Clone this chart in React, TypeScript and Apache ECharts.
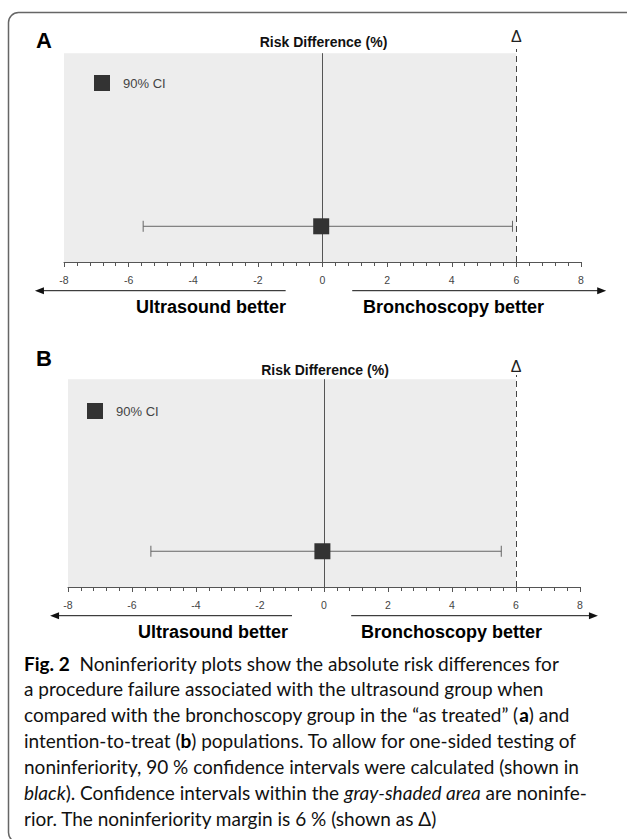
import React, { useEffect, useRef } from "react";
import * as echarts from "echarts";

// ---- data ----
const panelLabels = ["A", "B"];
const estimates = [-0.04, -0.05];
const lowerCI = [-5.55, -5.41];
const upperCI = [5.88, 5.54];
const pointLevel = [0.171, 0.172];
const nonInferiorityMargin = 6;
const xMin = -8;
const xMax = 8;
const xStep = 2;
const legendLabel = "90% CI";
const axisTitle = "Risk Difference (%)";
const leftLabel = "Ultrasound better";
const rightLabel = "Bronchoscopy better";
const leftArrowSpan = [[-8.9, -1.14], [-8.56, -1.0]];
const rightArrowSpan = [[0.92, 8.78], [0.85, 8.56]];
const captionLines = [
  "{b|Fig. 2}  Noninferiority plots show the absolute risk differences for",
  "a procedure failure associated with the ultrasound group when",
  "compared with the bronchoscopy group in the \u201cas treated\u201d ({b|a}) and",
  "intention-to-treat ({b|b}) populations. To allow for one-sided testing of",
  "noninferiority, 90 % confidence intervals were calculated (shown in",
  "{i|black}). Confidence intervals within the {i|gray-shaded area} are noninfe-",
  "rior. The noninferiority margin is 6 % (shown as \u0394)",
];

// ---- layout ----
const FONT = "'Liberation Sans', Arial, sans-serif";
const CAP_FONT = "Lato, 'Open Sans', sans-serif";
const grids = [
  { left: 64, right: 46, top: 49, height: 213 },
  { left: 68, right: 47, top: 375, height: 212 },
];
const legendPos = [
  { left: 94, top: 75 },
  { left: 87, top: 403 },
];
const panelLetterY = [40, 358];
const titleY = [42, 370];
const deltaY = [36, 366];
const arrowY = [290.7, 615.7];
const sideTextY = [306.7, 632];
const sideTextX = [
  [286, 363],
  [288, 361],
];
const YMAX = 1.02;

export default function App() {
  const ref = useRef<HTMLDivElement>(null);
  useEffect(() => {
    if (!ref.current) return;
    const chart = echarts.init(ref.current, undefined, { renderer: "svg" });
    const series: any[] = [];
    panelLabels.forEach((_, i) => {
      series.push({
        type: "line",
        xAxisIndex: i,
        yAxisIndex: i,
        data: [],
        z: 1,
        silent: true,
        markArea: {
          silent: true,
          itemStyle: { color: "#ededed" },
          data: [[{ coord: [xMin, 0] }, { coord: [nonInferiorityMargin, 1] }]],
        },
        markLine: {
          silent: true,
          symbol: "none",
          label: { show: false },
          data: [
            [
              { coord: [0, 0], lineStyle: { color: "#555", width: 1, type: "solid" } },
              { coord: [0, 1] },
            ],
            [
              {
                coord: [nonInferiorityMargin, 0],
                lineStyle: { color: "#444", width: 1, type: [6, 4] },
              },
              { coord: [nonInferiorityMargin, YMAX] },
            ],
          ],
        },
      });
      series.push({
        type: "custom",
        xAxisIndex: i,
        yAxisIndex: i,
        z: 3,
        silent: true,
        data: [[lowerCI[i], upperCI[i], pointLevel[i]]],
        encode: { x: [0, 1], y: 2 },
        renderItem: (params: any, api: any) => {
          const lo = api.coord([api.value(0), api.value(2)]);
          const hi = api.coord([api.value(1), api.value(2)]);
          const cap = 5.5;
          const style = { stroke: "#666", lineWidth: 1 };
          return {
            type: "group",
            children: [
              { type: "line", shape: { x1: lo[0], y1: lo[1], x2: hi[0], y2: hi[1] }, style },
              { type: "line", shape: { x1: lo[0], y1: lo[1] - cap, x2: lo[0], y2: lo[1] + cap }, style },
              { type: "line", shape: { x1: hi[0], y1: hi[1] - cap, x2: hi[0], y2: hi[1] + cap }, style },
            ],
          };
        },
      });
      series.push({
        type: "scatter",
        name: legendLabel,
        xAxisIndex: i,
        yAxisIndex: i,
        z: 5,
        symbol: "rect",
        symbolSize: 16,
        itemStyle: { color: "#333", opacity: 1 },
        data: [[estimates[i], pointLevel[i]]],
      });
    });

    const option: any = {
      animation: false,
      grid: grids,
      legend: legendPos.map((p) => ({
        ...p,
        padding: 0,
        itemWidth: 16,
        itemHeight: 16,
        icon: "rect",
        selectedMode: false,
        data: [legendLabel],
        itemStyle: { opacity: 1 },
        textStyle: { fontSize: 13, color: "#444", fontFamily: FONT, padding: [0, 0, 0, 8] },
      })),
      xAxis: grids.map((_, i) => ({
        type: "value",
        gridIndex: i,
        min: xMin,
        max: xMax,
        interval: xStep,
        axisLine: { show: true, onZero: false, lineStyle: { color: "#555", width: 1 } },
        axisTick: { show: true, length: 5, lineStyle: { color: "#555" } },
        minorTick: { show: true, splitNumber: 5, length: 4, lineStyle: { color: "#555" } },
        splitLine: { show: false },
        minorSplitLine: { show: false },
        axisLabel: { fontSize: 10.5, color: "#444", margin: 12, fontFamily: FONT },
      })),
      yAxis: grids.map((_, i) => ({
        type: "value",
        gridIndex: i,
        min: 0,
        max: YMAX,
        show: false,
        splitLine: { show: false },
      })),
      series,
    };
    chart.setOption(option);

    const graphics: any[] = [
      {
        type: "rect",
        silent: true,
        shape: { x: 8.5, y: 12.5, width: 640, height: 830, r: 10 },
        style: { fill: "none", stroke: "#666", lineWidth: 1.5 },
      },
    ];
    panelLabels.forEach((lab, i) => {
      const px = (v: number) => chart.convertToPixel({ xAxisIndex: i }, v) as number;
      graphics.push({
        type: "text",
        x: 44,
        y: panelLetterY[i],
        style: { text: lab, fontSize: 22, fontWeight: "bold", fontFamily: FONT, fill: "#000", align: "center", verticalAlign: "middle" },
      });
      graphics.push({
        type: "text",
        x: px(0) + 1,
        y: titleY[i],
        style: { text: axisTitle, fontSize: 14, fontWeight: "bold", fontFamily: FONT, fill: "#111", align: "center", verticalAlign: "middle" },
      });
      graphics.push({
        type: "text",
        x: px(nonInferiorityMargin),
        y: deltaY[i],
        style: { text: "\u0394", fontSize: 16, fontFamily: FONT, fill: "#222", align: "center", verticalAlign: "middle" },
      });
      const ay = arrowY[i];
      const [l0, l1] = leftArrowSpan[i].map(px);
      const [r0, r1] = rightArrowSpan[i].map(px);
      const lineStyle = { stroke: "#111", lineWidth: 1 };
      graphics.push({ type: "line", shape: { x1: l0 + 6, y1: ay, x2: l1, y2: ay }, style: lineStyle });
      graphics.push({ type: "polygon", shape: { points: [[l0, ay], [l0 + 9, ay - 3.5], [l0 + 9, ay + 3.5]] }, style: { fill: "#111" } });
      graphics.push({ type: "line", shape: { x1: r0, y1: ay, x2: r1 - 6, y2: ay }, style: lineStyle });
      graphics.push({ type: "polygon", shape: { points: [[r1, ay], [r1 - 9, ay - 3.5], [r1 - 9, ay + 3.5]] }, style: { fill: "#111" } });
      graphics.push({
        type: "text",
        x: sideTextX[i][0],
        y: sideTextY[i],
        style: { text: leftLabel, fontSize: 18, fontWeight: "bold", fontFamily: FONT, fill: "#000", align: "right", verticalAlign: "middle" },
      });
      graphics.push({
        type: "text",
        x: sideTextX[i][1],
        y: sideTextY[i],
        style: { text: rightLabel, fontSize: 18, fontWeight: "bold", fontFamily: FONT, fill: "#000", align: "left", verticalAlign: "middle" },
      });
    });
    captionLines.forEach((line, k) => {
      graphics.push({
        type: "text",
        x: 24,
        y: 663 + k * 25.9,
        style: {
          text: line,
          fontSize: 19,
          fontFamily: CAP_FONT,
          fill: "#111",
          verticalAlign: "middle",
          rich: {
            b: { fontWeight: "bold", fontSize: 19, fontFamily: CAP_FONT, fill: "#000" },
            i: { fontStyle: "italic", fontSize: 19, fontFamily: CAP_FONT, fill: "#111" },
          },
        },
      });
    });
    chart.setOption({ graphic: graphics });

    return () => chart.dispose();
  }, []);
  return (
    <div
      ref={ref}
      style={{ position: "absolute", left: 0, top: 0, width: 627, height: 839, background: "#fff" }}
    />
  );
}
